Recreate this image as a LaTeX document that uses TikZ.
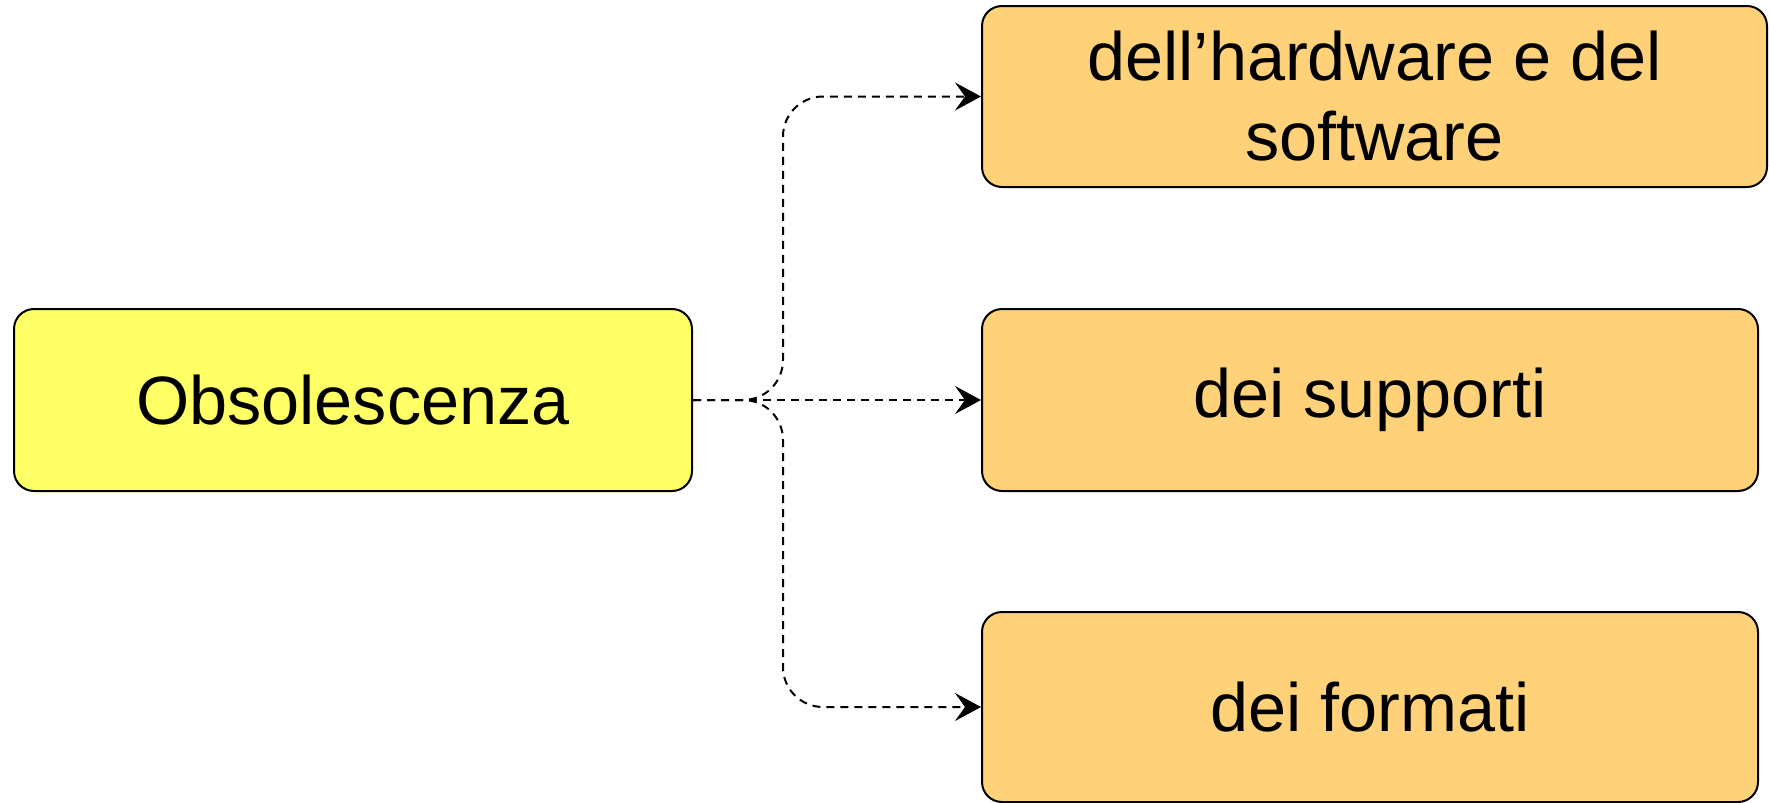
\documentclass[tikz,border=0pt]{standalone}
\usepackage{fontspec}
\setmainfont{Liberation Sans}
\usetikzlibrary{arrows.meta}
\definecolor{rootfill}{HTML}{FFFF66}
\definecolor{leaffill}{HTML}{FFD27A}
\begin{document}
\begin{tikzpicture}[x=0.5pt,y=-0.5pt,
  box/.style={draw=black, line width=1pt, rounded corners=10pt, inner sep=0pt,
    align=center, font=\fontsize{34.2}{40}\selectfont},
  root/.style={box, fill=rootfill},
  leaf/.style={box, fill=leaffill},
  link/.style={draw=black, line width=1pt, dash pattern=on 4pt off 3pt,
    rounded corners=20pt, -{Stealth[length=13pt,width=14pt,inset=5pt]}}]
\useasboundingbox (0,0) rectangle (1769,803);

% root concept
\node[root, minimum width=339pt, minimum height=91pt] (obs) at (353,400) {Obsolescenza};

% the three kinds of obsolescence
\node[leaf, minimum width=392.5pt, minimum height=90.5pt] (hw) at (1374.5,96.5)
  {dell’hardware e del\\software};
\node[leaf, minimum width=388pt, minimum height=91pt] (sup) at (1370,400) {dei supporti};
\node[leaf, minimum width=388pt, minimum height=95pt] (fmt) at (1370,707) {dei formati};

% vertical trunk of the branching connectors
\coordinate (trunk) at (783,400);

\draw[link] (obs.east) -- (trunk) |- (hw.west);
\draw[link] (obs.east) -- (sup.west);
\draw[link] (obs.east) -- (trunk) |- (fmt.west);
\end{tikzpicture}
\end{document}
